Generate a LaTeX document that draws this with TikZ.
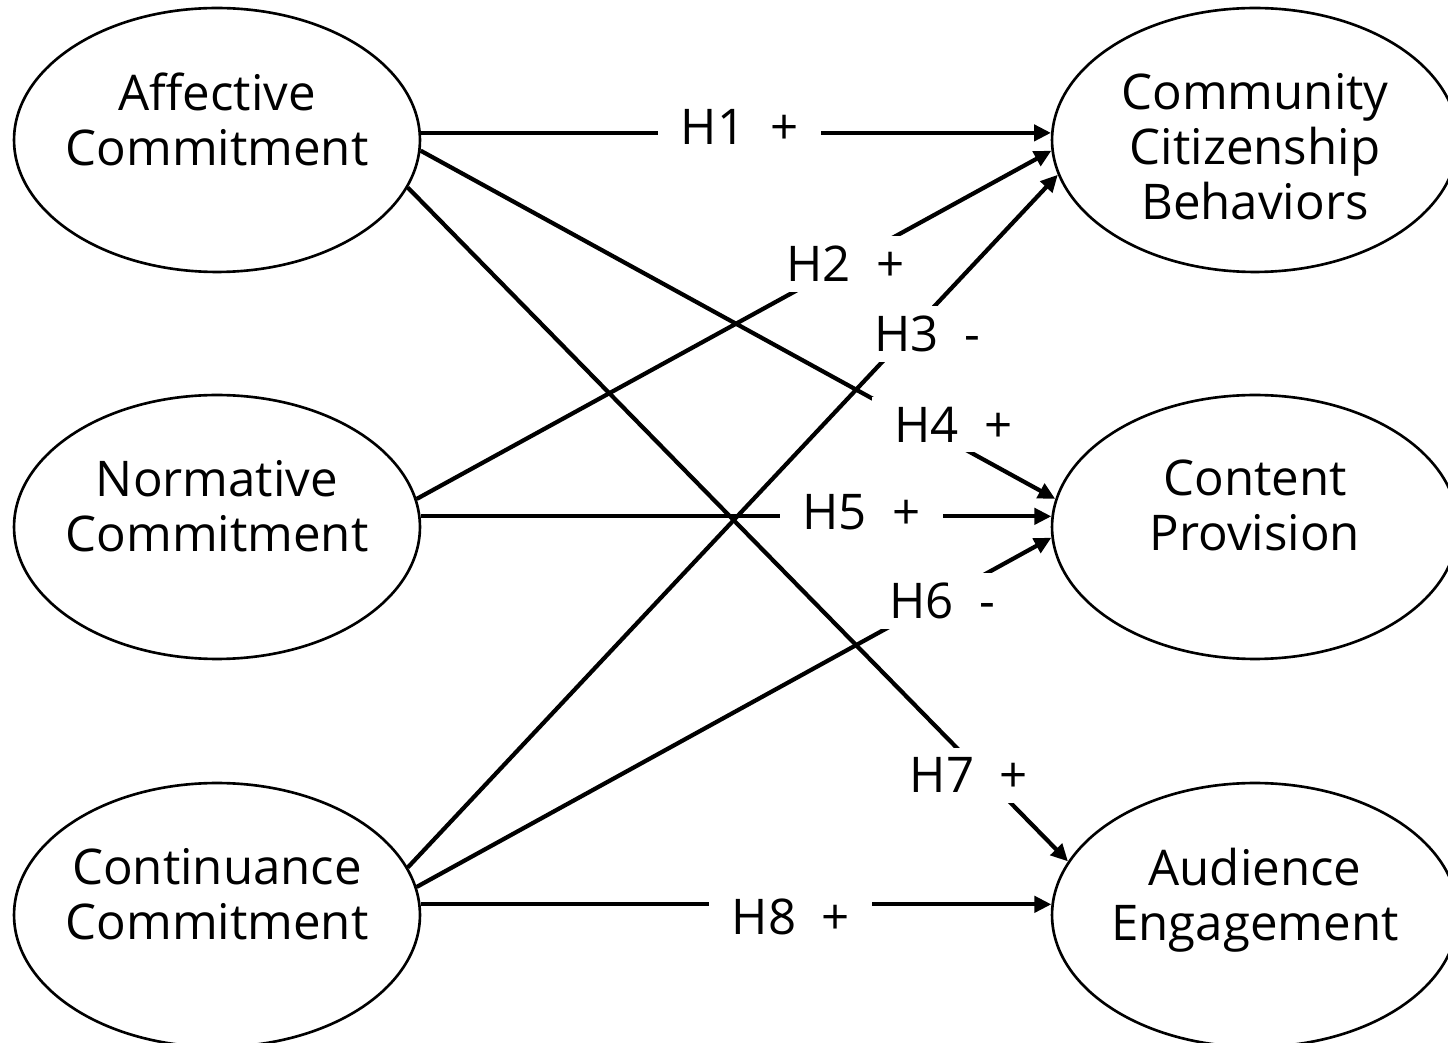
\documentclass[tikz,border=0pt]{standalone}
\usepackage{fontspec}
\setmainfont{Open Sans}
\usetikzlibrary{arrows.meta,shapes.geometric}

\tikzset{
  latent/.style={ellipse, draw, line width=1.5pt, minimum width=8.12cm,
    minimum height=5.28cm, inner sep=0pt,
    label={[yshift=-0.66cm, inner sep=0pt]center:\parbox[c][4cm][t]{7.6cm}{\centering #1}}},
  hyp/.style={line width=2.4pt, -{Triangle[length=0.34cm,width=0.32cm]}},
  hlabel/.style={fill=white, inner xsep=0.45cm, inner ysep=0.2cm}
}

\begin{document}
\begin{tikzpicture}[x=0.02cm, y=-0.02cm, font=\fontsize{28}{31.3}\selectfont]
  \useasboundingbox (0,0) rectangle (1448,1043);

  % commitment constructs
  \node[latent={Affective\\Commitment}] (aff) at (217,140) {};
  \node[latent={Normative\\Commitment}] (nor) at (217,527) {};
  \node[latent={Continuance\\Commitment}] (con) at (217,915) {};

  % outcome constructs
  \node[latent={Community\\Citizenship\\Behaviors}] (ccb) at (1255,140) {};
  \node[latent={Content\\Provision}] (cpr) at (1255,527) {};
  \node[latent={Audience\\Engagement}] (aud) at (1255,915) {};

  % hypotheses
  \draw[hyp] (aff.2) -- node[hlabel, pos=0.506, yshift=0.12cm] (h1) {H1~~+} (ccb.178);
  \draw[hyp] (nor.8) -- node[hlabel, pos=0.675] (h2) {H2~~+} (ccb.183);
  \draw[hyp] (con.14) -- node[hlabel, pos=0.799, yshift=-0.4cm] (h3) {H3~~-} (ccb.190);
  \draw[hyp] (aff.-3) -- node[hlabel, pos=0.839, yshift=0.37cm] (h4) {H4~~+} (cpr.172);
  \draw[hyp] (nor.3) -- node[hlabel, pos=0.699, yshift=0.09cm] (h5) {H5~~+} (cpr.177);
  \draw[hyp] (con.8) -- node[hlabel, pos=0.828, yshift=-0.07cm] (h6) {H6~~-} (cpr.183);
  \draw[hyp] (aff.-14) -- node[hlabel, pos=0.85, yshift=-0.3cm] (h7) {H7~~+} (aud.164);
  \draw[hyp] (con.3) -- node[hlabel, pos=0.587, yshift=-0.26cm] (h8) {H8~~+} (aud.177);
\end{tikzpicture}
\end{document}
